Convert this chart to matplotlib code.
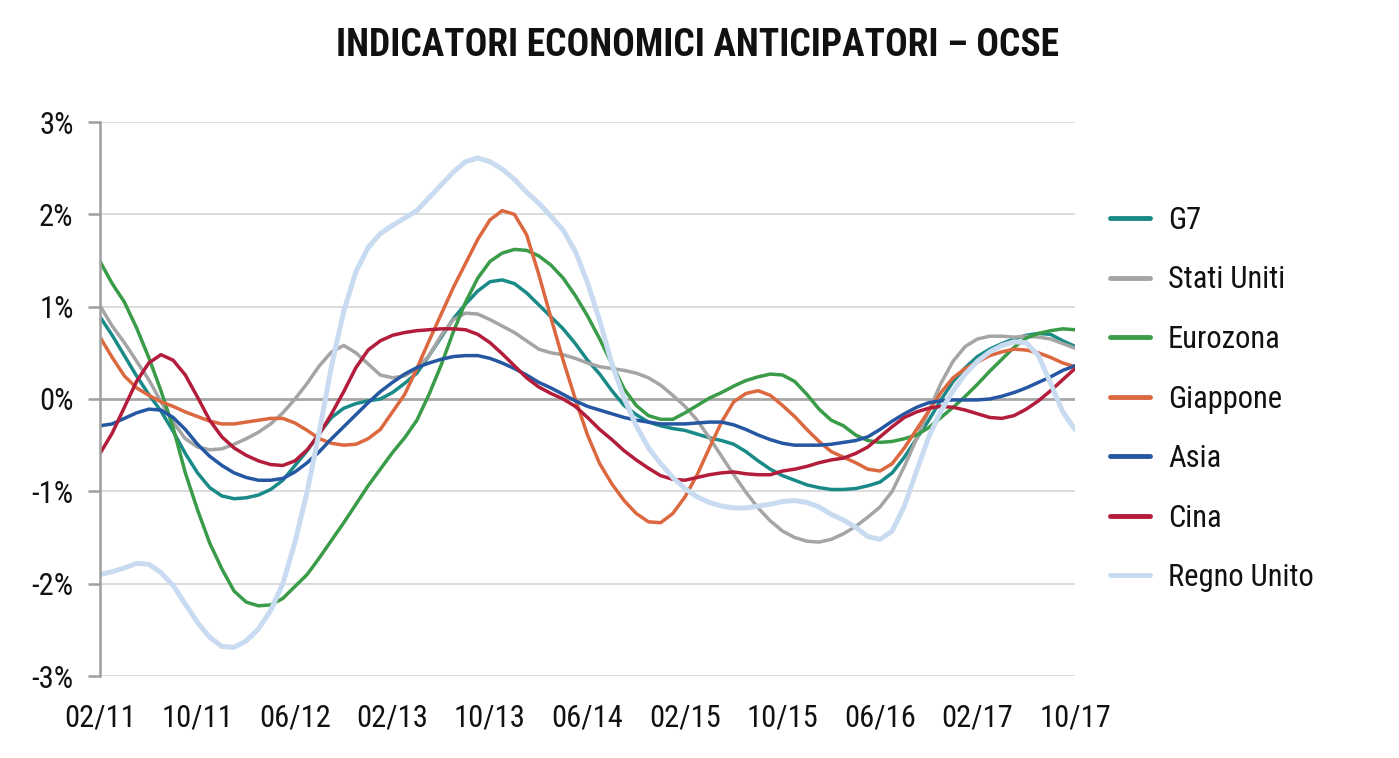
import numpy as np
import matplotlib
matplotlib.use("Agg")
import matplotlib.pyplot as plt

# ---------------- data (monthly, 02/2011 .. 10/2017) ----------------
tick_labels = ['02/11', '10/11', '06/12', '02/13', '10/13', '06/14',
               '02/15', '10/15', '06/16', '02/17', '10/17']

g7 = [0.89, 0.69, 0.47, 0.25, 0.05, -0.13, -0.35, -0.59, -0.80, -0.96,
      -1.05, -1.08, -1.07, -1.04, -0.98, -0.88, -0.72, -0.56, -0.37, -0.20,
      -0.10, -0.05, -0.02, 0.00, 0.07, 0.17, 0.28, 0.47, 0.67, 0.87,
      1.03, 1.17, 1.27, 1.29, 1.25, 1.15, 1.02, 0.89, 0.76, 0.60,
      0.42, 0.27, 0.09, -0.07, -0.17, -0.25, -0.29, -0.32, -0.34, -0.38,
      -0.42, -0.45, -0.49, -0.57, -0.67, -0.76, -0.83, -0.88, -0.93, -0.96,
      -0.98, -0.98, -0.97, -0.94, -0.90, -0.80, -0.63, -0.43, -0.23, -0.01,
      0.19, 0.34, 0.46, 0.54, 0.60, 0.65, 0.69, 0.71, 0.70, 0.63, 0.57]

stati_uniti = [1.01, 0.79, 0.61, 0.41, 0.21, -0.03, -0.25, -0.43, -0.52, -0.55,
               -0.54, -0.49, -0.43, -0.36, -0.27, -0.15, 0.00, 0.17, 0.36, 0.51,
               0.58, 0.50, 0.38, 0.26, 0.23, 0.25, 0.33, 0.47, 0.69, 0.86,
               0.93, 0.92, 0.86, 0.79, 0.72, 0.63, 0.54, 0.50, 0.48, 0.44,
               0.39, 0.35, 0.33, 0.31, 0.28, 0.23, 0.15, 0.04, -0.08, -0.23,
               -0.42, -0.62, -0.82, -1.01, -1.18, -1.32, -1.43, -1.50, -1.54, -1.55,
               -1.52, -1.46, -1.38, -1.28, -1.17, -1.00, -0.73, -0.43, -0.13, 0.17,
               0.41, 0.57, 0.65, 0.68, 0.68, 0.67, 0.68, 0.67, 0.65, 0.60, 0.55]

eurozona = [1.49, 1.25, 1.05, 0.77, 0.45, 0.09, -0.31, -0.80, -1.20, -1.56,
            -1.84, -2.08, -2.20, -2.24, -2.23, -2.16, -2.03, -1.90, -1.72, -1.53,
            -1.34, -1.14, -0.94, -0.76, -0.58, -0.42, -0.23, 0.05, 0.37, 0.73,
            1.05, 1.31, 1.49, 1.58, 1.62, 1.61, 1.55, 1.45, 1.31, 1.12,
            0.90, 0.65, 0.38, 0.11, -0.07, -0.18, -0.22, -0.22, -0.15, -0.07,
            0.01, 0.07, 0.14, 0.20, 0.24, 0.27, 0.26, 0.19, 0.05, -0.11,
            -0.23, -0.29, -0.39, -0.45, -0.47, -0.46, -0.43, -0.39, -0.31, -0.20,
            -0.09, 0.03, 0.16, 0.30, 0.43, 0.56, 0.66, 0.71, 0.74, 0.76, 0.75]

giappone = [0.67, 0.45, 0.25, 0.12, 0.04, -0.03, -0.08, -0.14, -0.19, -0.24,
            -0.27, -0.27, -0.25, -0.23, -0.21, -0.21, -0.26, -0.34, -0.43, -0.48,
            -0.50, -0.49, -0.43, -0.33, -0.14, 0.05, 0.33, 0.63, 0.92, 1.21,
            1.47, 1.73, 1.94, 2.04, 2.00, 1.78, 1.35, 0.88, 0.42, 0.00,
            -0.39, -0.70, -0.92, -1.10, -1.24, -1.33, -1.34, -1.24, -1.06, -0.82,
            -0.53, -0.25, -0.03, 0.06, 0.09, 0.04, -0.07, -0.19, -0.33, -0.46,
            -0.57, -0.63, -0.69, -0.76, -0.78, -0.70, -0.53, -0.33, -0.13, 0.07,
            0.23, 0.33, 0.40, 0.47, 0.51, 0.54, 0.53, 0.50, 0.45, 0.39, 0.35]

asia = [-0.29, -0.27, -0.21, -0.15, -0.11, -0.12, -0.20, -0.33, -0.49, -0.62,
        -0.72, -0.80, -0.85, -0.88, -0.88, -0.86, -0.79, -0.69, -0.57, -0.43,
        -0.30, -0.17, -0.04, 0.08, 0.18, 0.27, 0.34, 0.39, 0.43, 0.46,
        0.47, 0.47, 0.44, 0.39, 0.33, 0.26, 0.18, 0.12, 0.05, -0.02,
        -0.08, -0.12, -0.16, -0.20, -0.23, -0.25, -0.27, -0.27, -0.27, -0.26,
        -0.25, -0.25, -0.28, -0.33, -0.39, -0.44, -0.48, -0.50, -0.50, -0.50,
        -0.49, -0.47, -0.45, -0.41, -0.33, -0.24, -0.16, -0.09, -0.04, -0.02,
        -0.01, -0.01, -0.01, 0.00, 0.03, 0.07, 0.12, 0.18, 0.24, 0.31, 0.36]

cina = [-0.59, -0.37, -0.09, 0.19, 0.39, 0.48, 0.42, 0.26, 0.02, -0.23,
        -0.41, -0.53, -0.61, -0.67, -0.71, -0.72, -0.67, -0.55, -0.38, -0.16,
        0.08, 0.34, 0.53, 0.63, 0.69, 0.72, 0.74, 0.75, 0.76, 0.76,
        0.75, 0.70, 0.61, 0.49, 0.36, 0.23, 0.13, 0.06, 0.00, -0.08,
        -0.20, -0.33, -0.44, -0.56, -0.66, -0.75, -0.83, -0.87, -0.88, -0.85,
        -0.82, -0.80, -0.79, -0.81, -0.82, -0.82, -0.78, -0.76, -0.73, -0.69,
        -0.66, -0.64, -0.59, -0.52, -0.41, -0.30, -0.20, -0.14, -0.10, -0.08,
        -0.09, -0.12, -0.16, -0.20, -0.21, -0.18, -0.11, -0.02, 0.09, 0.21, 0.33]

regno_unito = [-1.90, -1.87, -1.83, -1.78, -1.79, -1.88, -2.02, -2.22, -2.42, -2.58,
               -2.68, -2.69, -2.62, -2.49, -2.29, -2.00, -1.55, -1.00, -0.35, 0.36,
               0.95, 1.38, 1.64, 1.79, 1.88, 1.96, 2.04, 2.18, 2.32, 2.46,
               2.57, 2.61, 2.57, 2.49, 2.38, 2.24, 2.12, 1.98, 1.83, 1.60,
               1.26, 0.85, 0.38, 0.01, -0.29, -0.53, -0.70, -0.85, -0.97, -1.06,
               -1.12, -1.16, -1.18, -1.18, -1.16, -1.14, -1.11, -1.10, -1.12, -1.17,
               -1.25, -1.31, -1.39, -1.49, -1.52, -1.43, -1.16, -0.78, -0.41, -0.13,
               0.09, 0.27, 0.41, 0.51, 0.58, 0.62, 0.61, 0.47, 0.17, -0.14, -0.33]

series_names = ['G7', 'Stati Uniti', 'Eurozona', 'Giappone', 'Asia', 'Cina', 'Regno Unito']
series_values = [g7, stati_uniti, eurozona, giappone, asia, cina, regno_unito]
series_colors = ['#1a8a88', '#a5a5a5', '#3a9b48', '#dc6840', '#2557a3', '#b31d3b', '#c8dbf1']
series_widths = [2.5, 2.5, 2.5, 2.5, 2.5, 2.5, 3.6]

y_ticks = [-3, -2, -1, 0, 1, 2, 3]

# ---------------- figure ----------------
FONT = ['Liberation Sans Narrow', 'Roboto Condensed', 'DejaVu Sans']
plt.rcParams['font.family'] = FONT

fig = plt.figure(figsize=(13.99, 7.58), dpi=100)
ax = fig.add_axes([100 / 1399, 1 - 676 / 758, 975 / 1399, (676 - 122) / 758])

n = len(g7)
x = np.arange(n)
for name, vals, col, lw in zip(series_names, series_values, series_colors, series_widths):
    ax.plot(x, vals, color=col, lw=lw, label=name, solid_joinstyle='round',
            solid_capstyle='round')

ax.set_xlim(0, n - 1)
ax.set_ylim(-3, 3)

# gridlines
for yv in y_ticks:
    if yv == 0:
        ax.axhline(yv, color='#a6a6a6', lw=2.0, zorder=0.9)
    else:
        ax.axhline(yv, color='#d9d9d9', lw=1.3, zorder=0.5)

for s in ['top', 'right', 'bottom']:
    ax.spines[s].set_visible(False)
ax.spines['left'].set_color('#9e9e9e')
ax.spines['left'].set_linewidth(1.8)

ax.set_yticks(y_ticks)
ax.set_yticklabels([f'{v}%' for v in y_ticks])
ax.tick_params(axis='y', length=9, width=1.8, color='#9e9e9e', pad=10,
               labelsize=22, labelcolor='#111111')

xt = np.arange(0, n, 8)
ax.set_xticks(xt)
ax.set_xticklabels(tick_labels)
ax.tick_params(axis='x', length=0, pad=20, labelsize=22, labelcolor='#111111')

fig.text(697 / 1399, 1 - 46 / 758, 'INDICATORI ECONOMICI ANTICIPATORI \u2013 OCSE',
         ha='center', va='center', fontsize=27, fontweight='bold', color='#111111')

leg = fig.legend(loc='center left', bbox_to_anchor=(1110 / 1399, 1 - 399 / 758),
                 frameon=False, fontsize=22, handlelength=1.3, handletextpad=0.6,
                 labelspacing=1.0, borderpad=0, borderaxespad=0)
for t in leg.get_texts():
    t.set_color('#111111')
for h in leg.get_lines():
    h.set_linewidth(3.5)

fig.savefig('out.png', dpi=100)
